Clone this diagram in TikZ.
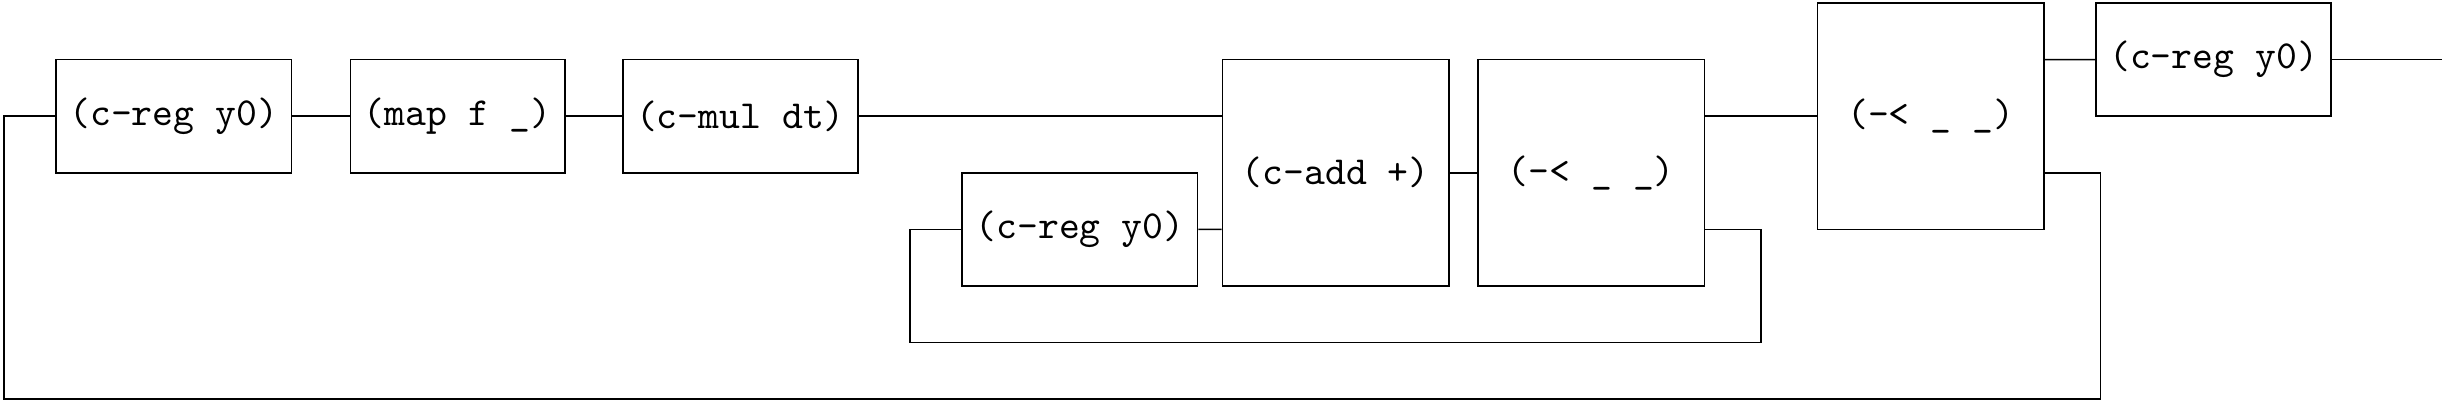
\documentclass[tikz,border=0pt]{standalone}
\usetikzlibrary{positioning,calc}

\begin{document}
\begin{tikzpicture}[
  reg/.style={draw, minimum height=1cm, font=\ttfamily},
  big/.style={draw, minimum width=2cm, minimum height=2cm, font=\ttfamily},
  wire/.style={black}
]
\useasboundingbox (-0.035,-0.044) rectangle (21.567,3.527);

\node[reg] (reg1) at (1.5,2.5) {(c-reg y0)};
\node[reg] (mapf) at (4.01,2.5) {(map f \_)};
\node[reg] (mul) at (6.51,2.5) {(c-mul dt)};
\node[reg] (reg2) at (9.51,1.5) {(c-reg y0)};
\node[big] (add) at (11.77,2) {(c-add +)};
\node[big] (split1) at (14.03,2) {(-< \_ \_)};
\node[big] (split2) at (17.03,2.5) {(-< \_ \_)};
\node[reg] (reg3) at (19.53,3) {(c-reg y0)};

\coordinate (out) at (21.55,3);
\coordinate (inner r) at (15.53,0.5);
\coordinate (inner l) at (8.01,0.5);
\coordinate (outer r) at (18.53,0);
\coordinate (outer l) at (0,0);

\draw[wire] (reg1)--(mapf); \draw[wire] (mapf)--(mul);
\draw[wire] (mul.east)--($(add.west)+(0,0.5)$);
\draw[wire] (reg2.east)--($(add.west)+(0,-0.5)$);
\draw[wire] (add)--(split1);
\draw[wire] ($(split1.east)+(0,0.5)$)--(split2.west);
\draw[wire] ($(split2.east)+(0,0.5)$)--(reg3.west);
\draw[wire] (reg3.east)--(out);

% feedback loops
\draw[wire] ($(split1.east)+(0,-0.5)$) -| (inner r) -| (inner l) |- (reg2.west);
\draw[wire] ($(split2.east)+(0,-0.5)$) -| (outer r) -| (outer l) |- (reg1.west);
\end{tikzpicture}
\end{document}
